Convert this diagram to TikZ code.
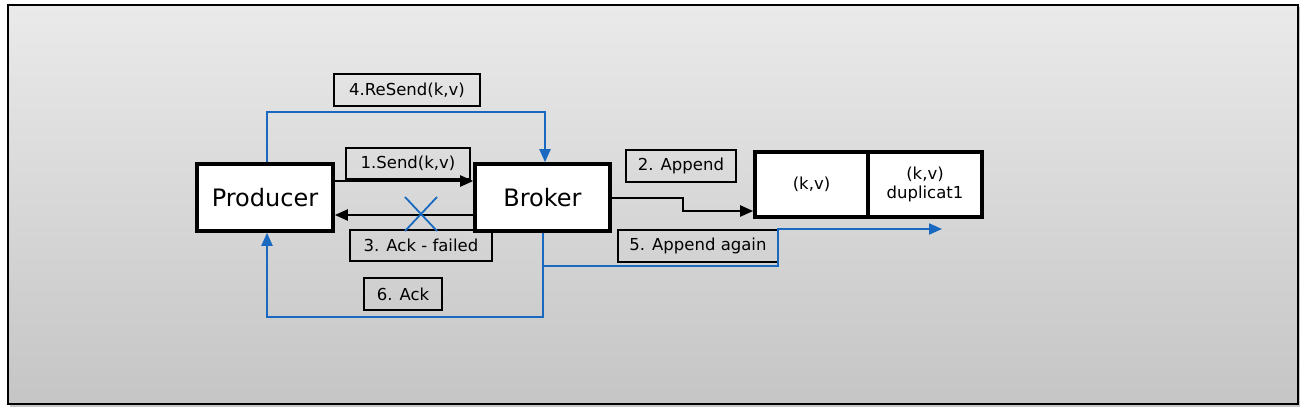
\documentclass[tikz,border=0pt]{standalone}
\usepackage{fontspec}
\setmainfont{DejaVu Sans}
\usetikzlibrary{arrows.meta,calc}
\definecolor{bluel}{RGB}{25,105,192}
\definecolor{bgtop}{RGB}{234,234,234}
\definecolor{bgbot}{RGB}{197,197,197}
\tikzset{
  bigbox/.style={draw=black,line width=3.6pt,fill=white,inner sep=0pt,font=\fontsize{24}{27}\selectfont},
  cellbox/.style={draw=black,line width=3.6pt,fill=white,inner sep=0pt,align=center,font=\fontsize{16.5}{19}\selectfont},
  lbl/.style={draw=black,line width=1.6pt,inner sep=0pt,minimum height=32pt,font=\fontsize{16.5}{19}\selectfont},
  blk/.style={draw=black,line width=2pt,-{Triangle[length=13pt,width=11pt]}},
  blu/.style={draw=bluel,line width=2pt,-{Triangle[length=13pt,width=11pt]}},
}
\begin{document}
\begin{tikzpicture}[x=1pt,y=-1pt]
\useasboundingbox (0,0) rectangle (1306,416);
\fill[black!22] (10,7) rectangle (1300,407);
\shade[top color=bgtop,bottom color=bgbot] (8,5) rectangle (1298,404);
\draw[line width=2.6pt] (8,5) rectangle (1298,404);

\node[bigbox,minimum width=136pt,minimum height=67pt] (prod) at (265,197.5) {Producer};
\node[bigbox,minimum width=135pt,minimum height=67pt] (broker) at (542.5,197.5) {Broker};
\node[cellbox,minimum width=113pt,minimum height=65pt] (kv) at (811.5,184.5) {(k,v)};
\node[cellbox,minimum width=114pt,minimum height=65pt] (dup) at (925,184.5) {(k,v)\\duplicat1};

\node[lbl,minimum width=146pt] (resend) at (407,90) {4.ReSend(k,v)};
\node[lbl,minimum width=124pt,minimum height=31pt] (send) at (408,163.5) {1.Send(k,v)};
\node[lbl,minimum width=142pt,minimum height=31pt] (ackfail) at (421,245.5) {3. Ack - failed};
\node[lbl,minimum width=78pt] (ack) at (403,294) {6. Ack};
\node[lbl,minimum width=110pt] (app2) at (681,166) {2. Append};
\node[lbl,minimum width=160pt] (app5) at (698,246) {5. Append again};

% 1. send
\draw[blk] ($(prod.east)+(0,-16.5)$) -- ($(broker.west)+(0,-16.5)$);
% 3. ack failed
\draw[blk] ($(broker.west)+(0,17.5)$) -- ($(prod.east)+(0,17.5)$);
% X
\draw[bluel,line width=1.8pt] (405,197) -- (437,231) (437,197) -- (405,231);
% 4. resend
\coordinate (rs1) at (267,112);
\draw[blu] ($(prod.north)+(2,0)$) -- (rs1) -- (545,112) -- ($(broker.north)+(2.5,0)$);
% 6. ack
\coordinate (a6) at (543,317);
\draw[blu] ($(broker.south)+(0.5,0)$) -- (a6) -- (267,317) -- ($(prod.south)+(2,0)$);
% 5. append again
\coordinate (a5end) at (942,229);
\draw[blu] ($(broker.south)+(0.5,0)$) -- (543,266) -- (778,266) -- (778,229) -- (a5end);
% 2. append
\draw[blk] ($(broker.east)+(0,0.5)$) -- (683,198) -- (683,211) -- (kv.west|-0,211);
\end{tikzpicture}
\end{document}
